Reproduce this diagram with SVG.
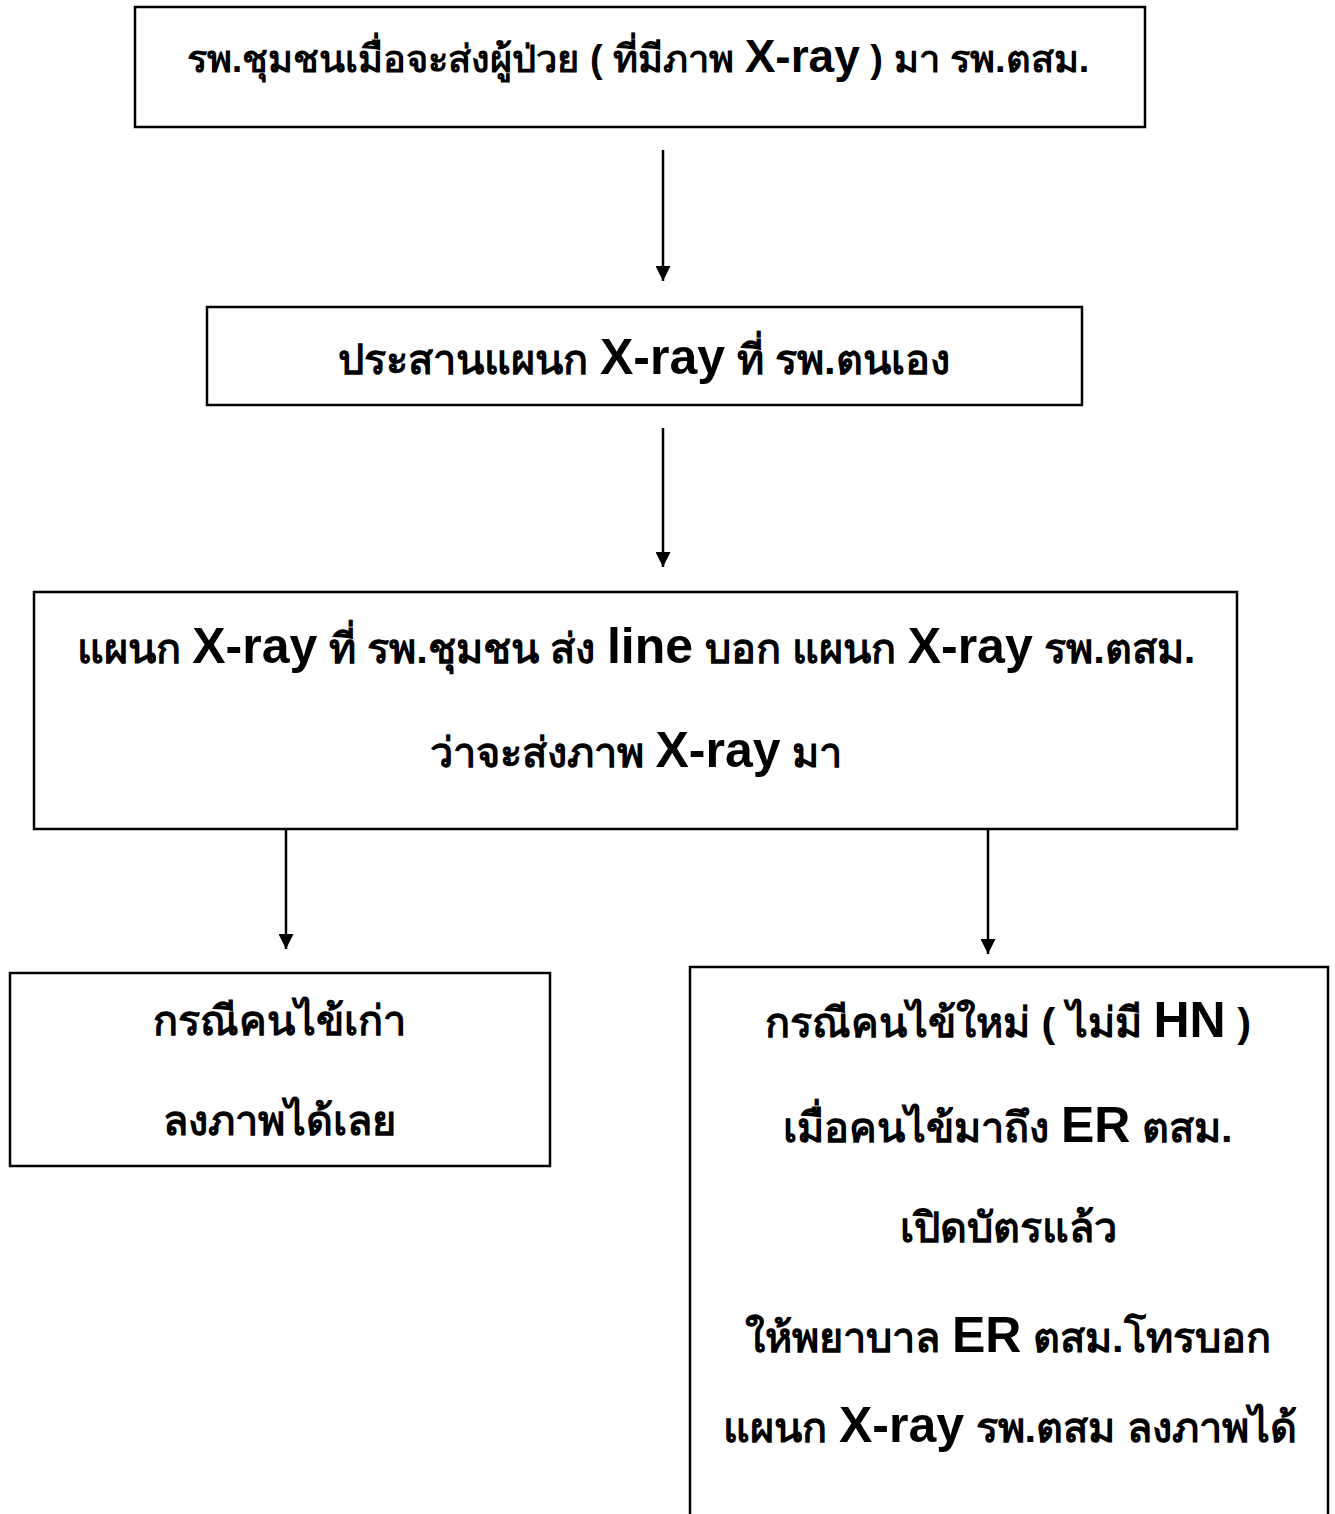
<svg xmlns="http://www.w3.org/2000/svg" width="1335" height="1514" viewBox="0 0 1335 1514">
<defs>
<style>
.box{fill:#fff;stroke:#000;stroke-width:2.5}
.t{font-family:"Liberation Sans","Noto Sans",sans-serif;font-size:41.5px;font-weight:bold;fill:#000;text-anchor:middle}
.s{font-size:38px}
.b{font-size:50px;font-weight:bold}
.bs{font-size:46px;font-weight:bold}
.c{stroke:#000;stroke-width:2.5;fill:none}
</style>
<marker id="ah" viewBox="0 0 10 10" refX="10" refY="5" markerWidth="6" markerHeight="6" markerUnits="strokeWidth" orient="auto">
<path d="M0,0 L10,5 L0,10 Z" fill="#000"/>
</marker>
</defs>
<rect width="1335" height="1514" fill="#fff"/>
<g id="n1">
<rect class="box" x="135" y="7" width="1010" height="120"/>
<text class="t s" x="638" y="72">รพ.ชุมชนเมื่อจะส่งผู้ป่วย ( ที่มีภาพ <tspan class="bs">X-ray</tspan> ) มา รพ.ตสม.</text>
</g>
<g id="n2">
<rect class="box" x="207" y="307" width="875" height="98"/>
<text class="t" x="644" y="374">ประสานแผนก <tspan class="b">X-ray</tspan> ที่ รพ.ตนเอง</text>
</g>
<g id="n3">
<rect class="box" x="34" y="592" width="1203" height="237"/>
<text class="t" x="636" y="663">แผนก <tspan class="b">X-ray</tspan> ที่ รพ.ชุมชน ส่ง <tspan class="b">line</tspan> บอก แผนก <tspan class="b">X-ray</tspan> รพ.ตสม.</text>
<text class="t" x="636" y="767">ว่าจะส่งภาพ <tspan class="b">X-ray</tspan> มา</text>
</g>
<g id="n4">
<rect class="box" x="10" y="973" width="540" height="193"/>
<text class="t" x="279" y="1035">กรณีคนไข้เก่า</text>
<text class="t" x="279" y="1135">ลงภาพได้เลย</text>
</g>
<g id="n5">
<path class="c" d="M690,1514 V967 H1328 V1514"/>
<text class="t" x="1008" y="1037">กรณีคนไข้ใหม่ ( ไม่มี <tspan class="b">HN</tspan> )</text>
<text class="t" x="1008" y="1142">เมื่อคนไข้มาถึง <tspan class="b">ER</tspan> ตสม.</text>
<text class="t" x="1008" y="1242">เปิดบัตรแล้ว</text>
<text class="t" x="1008" y="1352">ให้พยาบาล <tspan class="b">ER</tspan> ตสม.โทรบอก</text>
<text class="t" x="1010" y="1442">แผนก <tspan class="b">X-ray</tspan> รพ.ตสม ลงภาพได้</text>
</g>
<g id="connectors">
<line class="c" x1="663" y1="150" x2="663" y2="281" marker-end="url(#ah)"/>
<line class="c" x1="663" y1="428" x2="663" y2="567" marker-end="url(#ah)"/>
<line class="c" x1="286" y1="829" x2="286" y2="949" marker-end="url(#ah)"/>
<line class="c" x1="988" y1="829" x2="988" y2="954" marker-end="url(#ah)"/>
</g>
</svg>
